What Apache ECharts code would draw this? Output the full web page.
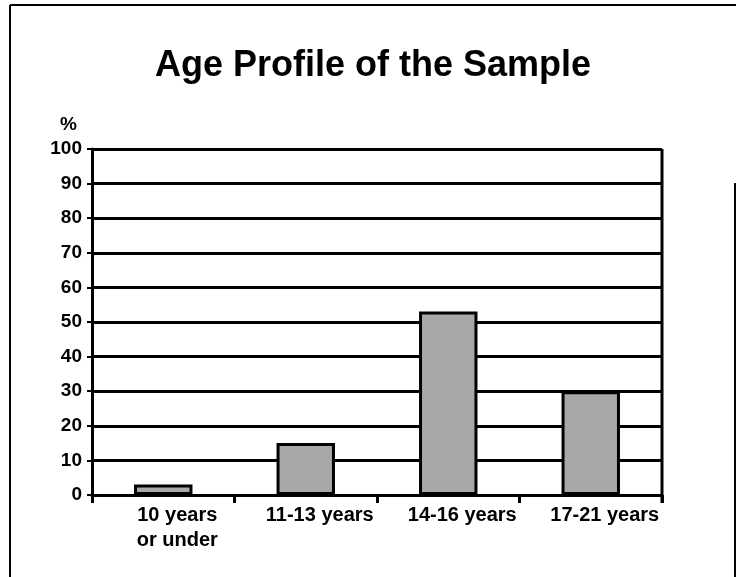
<!DOCTYPE html>
<html>
<head>
<meta charset="utf-8">
<script src="https://cdn.jsdelivr.net/npm/echarts@6/dist/echarts.min.js"></script>
<style>
  html, body { margin: 0; padding: 0; background: #fff; }
  #eChart { width: 736px; height: 577px; }
</style>
</head>
<body>
<div id="eChart"></div>
<script>
// values
const categories = ["10 years\nor under", "11-13 years", "14-16 years", "17-21 years"];
const percentages = [3, 15, 53, 30];
const yTicks = { min: 0, max: 100, interval: 10 };

const ink = "#000";
const font = "'Liberation Sans', Arial, sans-serif";

const myChart = echarts.init(document.getElementById("eChart"), null, {
  renderer: "canvas",
});

myChart.setOption({
  animation: false,
  backgroundColor: "#fff",
  title: {
    text: "Age Profile of the Sample",
    left: 150,
    top: 43,
    textStyle: { fontFamily: font, fontSize: 36, fontWeight: "bold", color: ink },
  },
  grid: { left: 92, right: 74, top: 149, bottom: 82 },
  xAxis: {
    type: "category",
    data: categories,
    axisLine: { lineStyle: { color: ink, width: 3 } },
    axisTick: { show: true, length: 8, lineStyle: { color: ink, width: 3 } },
    axisLabel: {
      margin: 8,
      color: ink,
      fontFamily: font,
      fontSize: 20,
      fontWeight: "bold",
      lineHeight: 25,
      padding: [0, 0, 0, 28],
      interval: 0,
    },
  },
  yAxis: {
    type: "value",
    min: yTicks.min,
    max: yTicks.max,
    interval: yTicks.interval,
    name: "%",
    nameLocation: "end",
    nameGap: 15,
    nameTextStyle: {
      color: ink,
      fontFamily: font,
      fontSize: 19,
      fontWeight: "bold",
      align: "right",
      padding: [0, 15, 0, 0],
    },
    axisLine: { show: true, lineStyle: { color: ink, width: 3 } },
    axisTick: { show: true, length: 5, lineStyle: { color: ink, width: 2 } },
    axisLabel: {
      margin: 10,
      color: ink,
      fontFamily: font,
      fontSize: 19,
      fontWeight: "bold",
    },
    splitLine: { show: true, lineStyle: { color: ink, width: 3 } },
  },
  series: [
    {
      type: "bar",
      data: percentages,
      barWidth: "41%",
      itemStyle: { color: "#a8a8a8", borderColor: ink, borderWidth: 3 },
    },
  ],
  graphic: [
    // right edge of the plot frame
    { type: "line", shape: { x1: 662, y1: 149, x2: 662, y2: 503 }, style: { stroke: ink, lineWidth: 3 } },
    // outer page frame
    { type: "line", shape: { x1: 10, y1: 5, x2: 736, y2: 5 }, style: { stroke: ink, lineWidth: 2 } },
    { type: "line", shape: { x1: 10, y1: 5, x2: 10, y2: 577 }, style: { stroke: ink, lineWidth: 2 } },
    { type: "line", shape: { x1: 735, y1: 183, x2: 735, y2: 577 }, style: { stroke: ink, lineWidth: 2 } },
  ],
});
</script>
</body>
</html>
